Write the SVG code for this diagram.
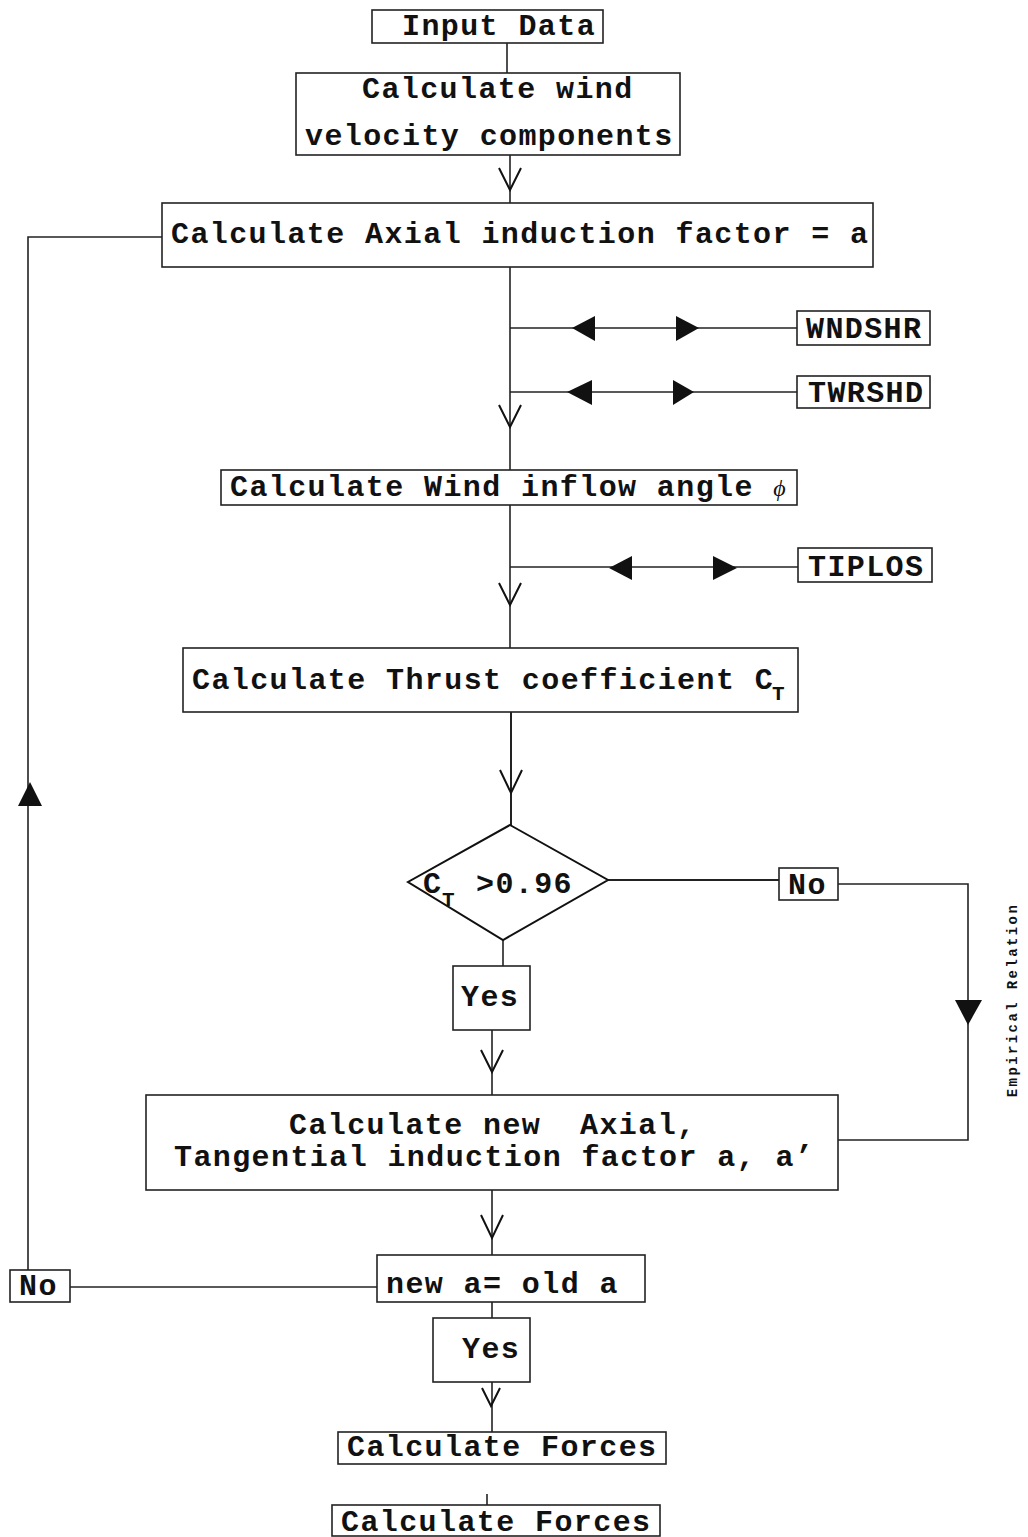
<svg xmlns="http://www.w3.org/2000/svg" width="1028" height="1537" viewBox="0 0 1028 1537">
<style>
  .box{fill:none;stroke:#222;stroke-width:1.6}
  .ln{fill:none;stroke:#222;stroke-width:1.6}
  .vee{fill:none;stroke:#111;stroke-width:2}
  .tri{fill:#111;stroke:none}
  .t{font-family:"Liberation Mono","Courier New",monospace;font-weight:bold;font-size:30px;letter-spacing:1.4px;fill:#111}
  .s{font-family:"Liberation Mono","Courier New",monospace;font-weight:bold;font-size:21px;fill:#111}
  .r{font-family:"Liberation Mono","Courier New",monospace;font-weight:bold;font-size:14px;letter-spacing:2.4px;fill:#111}
</style>
<rect width="1028" height="1537" fill="#fff"/>
<g id="connectors">
  <line class="ln" x1="507" y1="43" x2="507" y2="73"/>
  <line class="ln" x1="510" y1="155" x2="510" y2="203"/>
  <path class="vee" d="M499,168 L510,190 L521,168"/>
  <line class="ln" x1="510" y1="267" x2="510" y2="470"/>
  <line class="ln" x1="510" y1="328" x2="797" y2="328"/>
  <polygon class="tri" points="572,328 595,316 595,341"/>
  <polygon class="tri" points="676,316 699,328 676,341"/>
  <line class="ln" x1="510" y1="392" x2="797" y2="392"/>
  <polygon class="tri" points="567,392 592,380 592,405"/>
  <polygon class="tri" points="673,380 694,392 673,405"/>
  <path class="vee" d="M499,405 L510,427 L521,405"/>
  <line class="ln" x1="510" y1="505" x2="510" y2="648"/>
  <line class="ln" x1="510" y1="567" x2="798" y2="567"/>
  <polygon class="tri" points="609,568 632,556 632,580"/>
  <polygon class="tri" points="713,556 737,568 713,580"/>
  <path class="vee" d="M499,583 L510,605 L521,583"/>
  <line class="ln" x1="511" y1="712" x2="511" y2="825" style="stroke-width:2"/>
  <path class="vee" d="M500,770 L511,793 L522,770"/>
  <line class="ln" x1="608" y1="880" x2="779" y2="880" style="stroke-width:2"/>
  <polyline class="ln" points="838,884 968,884 968,1140 838,1140"/>
  <polygon class="tri" points="955,1000 982,1000 968,1025"/>
  <line class="ln" x1="503" y1="940" x2="503" y2="966"/>
  <line class="ln" x1="492" y1="1030" x2="492" y2="1095"/>
  <path class="vee" d="M481,1050 L492,1072 L503,1050"/>
  <line class="ln" x1="492" y1="1190" x2="492" y2="1255"/>
  <path class="vee" d="M481,1215 L492,1238 L503,1215"/>
  <line class="ln" x1="377" y1="1287" x2="70" y2="1287"/>
  <polyline class="ln" points="28,1270 28,237 162,237"/>
  <polygon class="tri" points="30,782 42,806 18,806"/>
  <line class="ln" x1="492" y1="1302" x2="492" y2="1318"/>
  <line class="ln" x1="492" y1="1382" x2="492" y2="1432"/>
  <path class="vee" d="M482,1388 L491,1406 L500,1388"/>
  <line class="ln" x1="487" y1="1494" x2="487" y2="1505"/>
</g>
<g id="n-input"><rect class="box" x="372" y="10" width="231" height="33"/><text class="t" x="402" y="35">Input Data</text></g>
<g id="n-wind"><rect class="box" x="296" y="73" width="384" height="82"/><text class="t" x="362" y="98">Calculate wind</text><text class="t" x="305" y="145">velocity components</text></g>
<g id="n-axial"><rect class="box" x="162" y="203" width="711" height="64"/><text class="t" x="171" y="243">Calculate Axial induction factor = a</text></g>
<g id="n-wndshr"><rect class="box" x="797" y="311" width="133" height="34"/><text class="t" x="806" y="338">WNDSHR</text></g>
<g id="n-twrshd"><rect class="box" x="797" y="376" width="133" height="32"/><text class="t" x="808" y="402">TWRSHD</text></g>
<g id="n-inflow"><rect class="box" x="221" y="470" width="576" height="35"/><text class="t" x="230" y="496">Calculate Wind inflow angle <tspan style="font-family:'Liberation Serif',serif;font-style:italic;font-weight:normal;font-size:24px">ϕ</tspan></text></g>
<g id="n-tiplos"><rect class="box" x="798" y="548" width="134" height="34"/><text class="t" x="808" y="576">TIPLOS</text></g>
<g id="n-thrust"><rect class="box" x="183" y="648" width="615" height="64"/><text class="t" x="192" y="689">Calculate Thrust coefficient C</text><text class="s" x="772" y="700">T</text></g>
<g id="n-decision"><polygon points="510,825 608,880 503,940 408,882" fill="none" stroke="#111" stroke-width="2"/><text class="t" x="423" y="893">C</text><text class="s" x="442" y="906">T</text><text class="t" x="476" y="893">&gt;0.96</text></g>
<g id="n-no1"><rect class="box" x="779" y="868" width="59" height="32"/><text class="t" x="788" y="894">No</text></g>
<g id="n-yes1"><rect class="box" x="453" y="966" width="77" height="64"/><text class="t" x="461" y="1006">Yes</text></g>
<g id="n-empirical"><text class="r" transform="translate(1017,1000) rotate(-90)" text-anchor="middle">Empirical Relation</text></g>
<g id="n-newfactor"><rect class="box" x="146" y="1095" width="692" height="95"/><text class="t" x="289" y="1134" xml:space="preserve">Calculate new  Axial,</text><text class="t" x="174" y="1166">Tangential induction factor a, a’</text></g>
<g id="n-compare"><rect class="box" x="377" y="1255" width="268" height="47"/><text class="t" x="386" y="1293">new a= old a</text></g>
<g id="n-no2"><rect class="box" x="10" y="1270" width="60" height="32"/><text class="t" x="19" y="1295">No</text></g>
<g id="n-yes2"><rect class="box" x="433" y="1318" width="97" height="64"/><text class="t" x="462" y="1358">Yes</text></g>
<g id="n-forces1"><rect class="box" x="338" y="1432" width="328" height="32"/><text class="t" x="347" y="1456">Calculate Forces</text></g>
<g id="n-forces2"><rect class="box" x="332" y="1505" width="328" height="31"/><text class="t" x="341" y="1531">Calculate Forces</text></g>
</svg>
